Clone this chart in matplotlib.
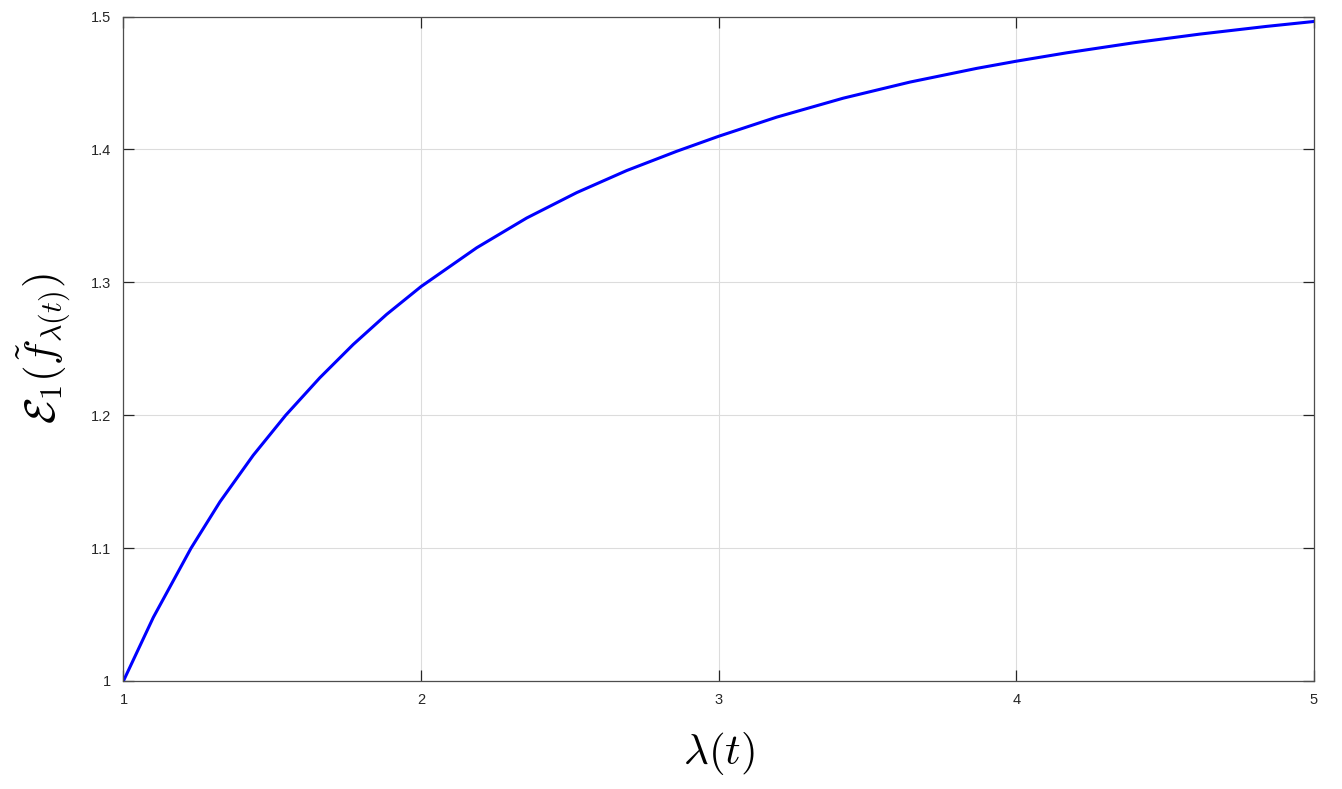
import matplotlib
matplotlib.use('Agg')
import matplotlib.pyplot as plt

plt.rcParams['font.family'] = ['Liberation Sans', 'DejaVu Sans']
plt.rcParams['mathtext.fontset'] = 'cm'

# values
lam = [1.0, 1.1003, 1.2268, 1.3243, 1.436, 1.545, 1.660, 1.772, 1.884, 2.0,
       2.187, 2.355, 2.523, 2.691, 2.859, 3.0, 3.195, 3.419, 3.643, 3.867,
       4.0, 4.169, 4.393, 4.617, 4.841, 5.0]
energy = [1.0, 1.0478, 1.0998, 1.1348, 1.1698, 1.1999, 1.2282, 1.2532,
          1.2758, 1.2968, 1.3260, 1.3484, 1.3675, 1.3841, 1.3986, 1.4099,
          1.4243, 1.4386, 1.4507, 1.4610, 1.4664, 1.4727, 1.4802, 1.4868,
          1.4926, 1.4963]

x_ticks = [1, 2, 3, 4, 5]
y_ticks = [1, 1.1, 1.2, 1.3, 1.4, 1.5]

fig = plt.figure(figsize=(13.42, 7.89), dpi=100)
ax = fig.add_axes([0.092, 0.137, 0.887, 0.842])

ax.plot(lam, energy, color='#0000ff', linewidth=2.2, solid_joinstyle='round')

ax.set_xlim(1, 5)
ax.set_ylim(1, 1.5)
ax.set_xticks(x_ticks)
ax.set_xticklabels([f'{v:g}' for v in x_ticks])
ax.set_yticks(y_ticks)
ax.set_yticklabels([f'{v:g}' for v in y_ticks])

ax.grid(True, color='#dcdcdc', linewidth=0.8)
ax.tick_params(direction='in', length=8, width=0.9, color='#262626',
               labelsize=10.5, labelcolor='#262626', pad=9,
               top=True, right=True)
for s in ax.spines.values():
    s.set_color('#4d4d4d')
    s.set_linewidth(0.9)

ax.set_xlabel(r'$\lambda(t)$', fontsize=31, labelpad=16)
ax.set_ylabel(r'$\mathcal{E}_1(\tilde{f}_{\lambda(t)})$', fontsize=31, labelpad=12)

fig.savefig('out.png', dpi=100)
